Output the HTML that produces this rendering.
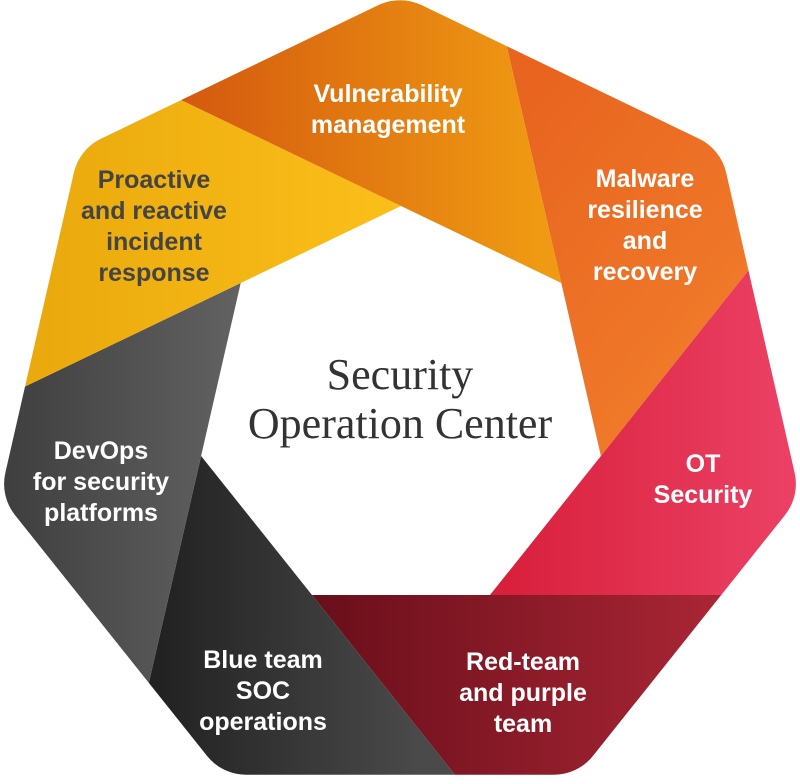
<!DOCTYPE html>
<html><head><meta charset="utf-8"><style>
html,body{margin:0;padding:0;background:#fff;overflow:hidden;width:800px;height:784px}
svg{display:block}
.l{font-family:"Liberation Sans",sans-serif;font-weight:bold;font-size:25px;fill:#fff;text-anchor:middle}
.t{font-family:"Liberation Serif",serif;font-size:44px;fill:#333;text-anchor:middle}
</style></head><body>
<svg width="800" height="784" viewBox="0 0 800 784" xmlns="http://www.w3.org/2000/svg">
<defs>
<mask id="m" maskUnits="userSpaceOnUse" x="0" y="0" width="800" height="784">
<rect x="0" y="0" width="800" height="784" fill="#000"/>
<polygon points="400,50.2 677.4,183.8 745.9,483.9 553.9,724.7 246.1,724.7 54.1,483.9 122.6,183.8" fill="#fff" stroke="#fff" stroke-width="100" stroke-linejoin="round"/>
</mask>
<linearGradient id="g0" gradientUnits="userSpaceOnUse" x1="150" y1="110" x2="540" y2="110"><stop offset="0" stop-color="#d2530f"/><stop offset="1" stop-color="#ef9a12"/></linearGradient>
<linearGradient id="g1" gradientUnits="userSpaceOnUse" x1="520" y1="100" x2="760" y2="300"><stop offset="0" stop-color="#e8641f"/><stop offset="1" stop-color="#f07a2a"/></linearGradient>
<linearGradient id="g2" gradientUnits="userSpaceOnUse" x1="500" y1="500" x2="800" y2="500"><stop offset="0" stop-color="#d81f3b"/><stop offset="1" stop-color="#ec4266"/></linearGradient>
<linearGradient id="g3" gradientUnits="userSpaceOnUse" x1="320" y1="680" x2="760" y2="680"><stop offset="0" stop-color="#6a0f1a"/><stop offset="1" stop-color="#b02838"/></linearGradient>
<linearGradient id="g4" gradientUnits="userSpaceOnUse" x1="160" y1="650" x2="420" y2="650"><stop offset="0" stop-color="#222"/><stop offset="1" stop-color="#4a4a4a"/></linearGradient>
<linearGradient id="g5" gradientUnits="userSpaceOnUse" x1="0" y1="450" x2="240" y2="450"><stop offset="0" stop-color="#3e3e3e"/><stop offset="1" stop-color="#626262"/></linearGradient>
<linearGradient id="g6" gradientUnits="userSpaceOnUse" x1="20" y1="250" x2="400" y2="250"><stop offset="0" stop-color="#e9a80c"/><stop offset="1" stop-color="#fbbf1a"/></linearGradient>
</defs>
<g mask="url(#m)">
<polygon fill="url(#g1)" points="561.3,283 426.5,-302 973.7,-13 600.9,456"/>
<polygon fill="url(#g2)" points="600.9,456 973.7,-13 1089,595 490,595"/>
<polygon fill="url(#g3)" points="490,595 1089,595 684.8,1064 312,595"/>
<polygon fill="url(#g4)" points="312,595 684.8,1064 66.3,1041 201.1,456"/>
<polygon fill="url(#g5)" points="201.1,456 66.3,1041 -300.9,543 240.7,283"/>
<polygon fill="url(#g6)" points="240.7,283 -300.9,543 -140.6,-55 401,206"/>
<polygon fill="url(#g0)" points="401,206 -140.6,-55 426.5,-302 561.3,283"/>
</g>
<text class="l" x="388" y="102">Vulnerability</text>
<text class="l" x="388" y="133">management</text>
<text class="l" x="154" y="188" style="fill:#444">Proactive</text>
<text class="l" x="154" y="219" style="fill:#444">and reactive</text>
<text class="l" x="154" y="250" style="fill:#444">incident</text>
<text class="l" x="154" y="281" style="fill:#444">response</text>
<text class="l" x="645" y="187">Malware</text>
<text class="l" x="645" y="218">resilience</text>
<text class="l" x="645" y="249">and</text>
<text class="l" x="645" y="280">recovery</text>
<text class="l" x="703" y="472">OT</text>
<text class="l" x="703" y="503">Security</text>
<text class="l" x="523" y="670">Red-team</text>
<text class="l" x="523" y="701">and purple</text>
<text class="l" x="523" y="732">team</text>
<text class="l" x="263" y="668">Blue team</text>
<text class="l" x="263" y="699">SOC</text>
<text class="l" x="263" y="730">operations</text>
<text class="l" x="101" y="459">DevOps</text>
<text class="l" x="101" y="490">for security</text>
<text class="l" x="101" y="521">platforms</text>
<text class="t" x="400" y="389">Security</text>
<text class="t" x="400" y="438">Operation Center</text>
</svg>
</body></html>
